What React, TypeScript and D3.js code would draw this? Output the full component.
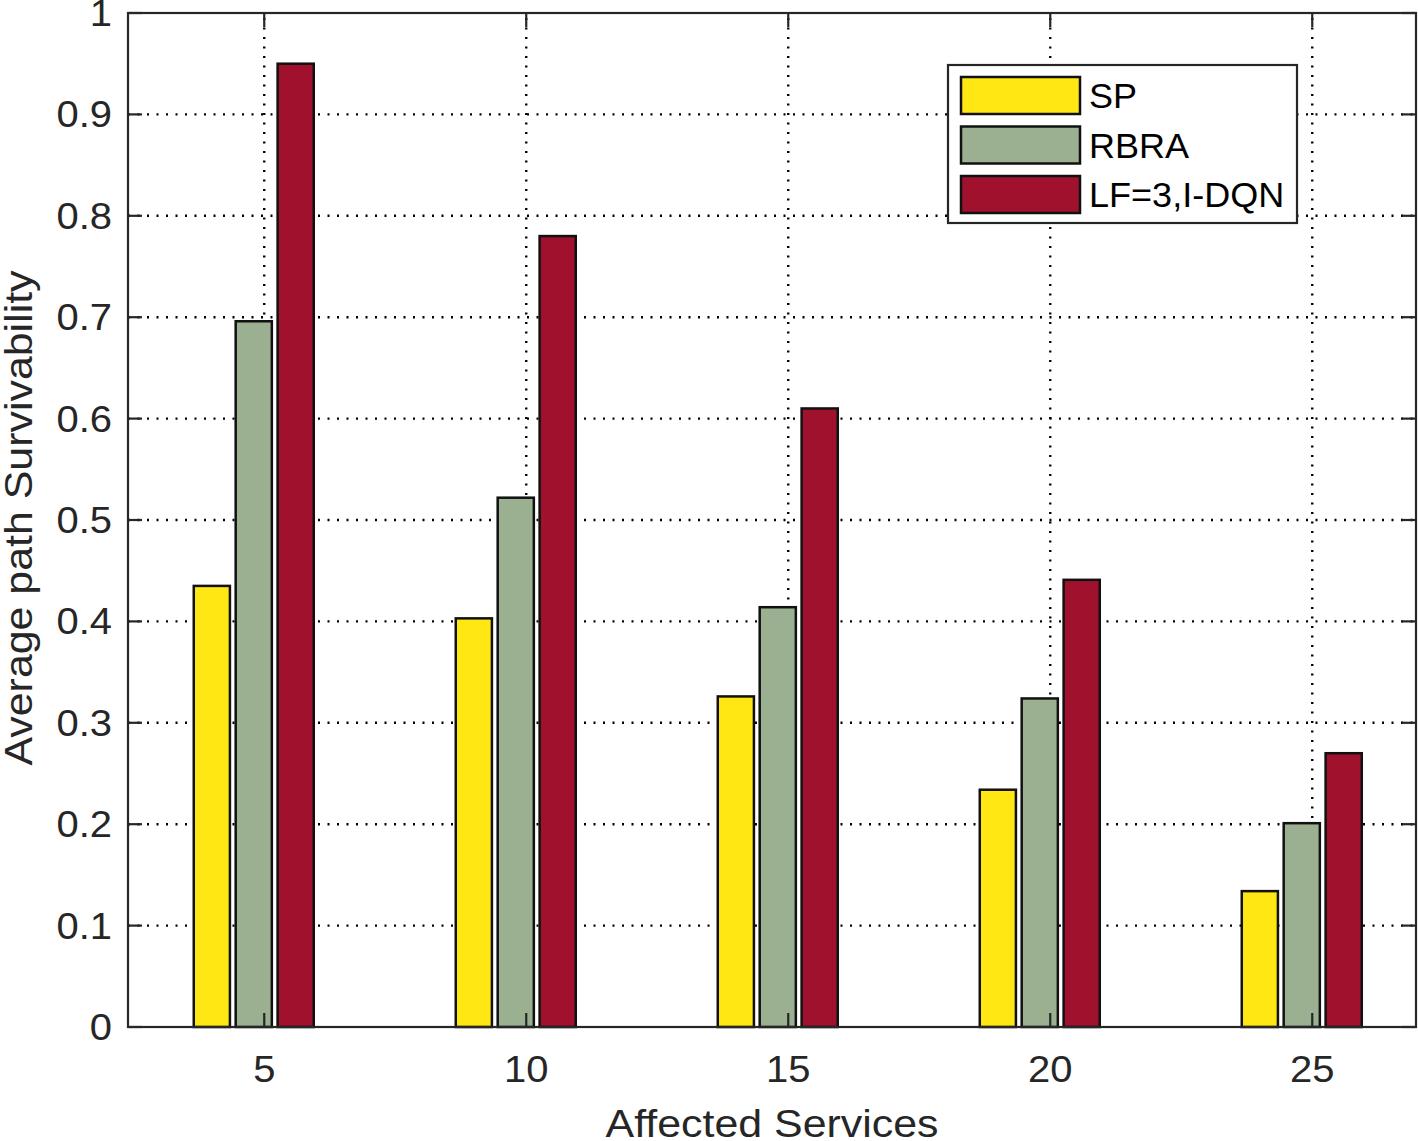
import React from "react";
import * as d3 from "d3";

const categories = [5, 10, 15, 20, 25];
const seriesNames = ["SP", "RBRA", "LF=3,I-DQN"];
const spValues = [0.435, 0.403, 0.326, 0.234, 0.134];
const rbraValues = [0.696, 0.522, 0.414, 0.324, 0.201];
const dqnValues = [0.95, 0.78, 0.61, 0.441, 0.27];
const yTicks = [0, 0.1, 0.2, 0.3, 0.4, 0.5, 0.6, 0.7, 0.8, 0.9, 1];
const xTicks = [5, 10, 15, 20, 25];
const colors = ["#FFE713", "#9AB091", "#A0112E"];

const W = 1418;
const H = 1141;
const left = 128;
const right = 1416;
const top = 13;
const bottom = 1027;

export default function App() {
  const x = d3.scaleLinear().domain([2.4, 26.98]).range([left, right]);
  const y = d3.scaleLinear().domain([0, 1]).range([bottom, top]);
  const series = [spValues, rbraValues, dqnValues];
  const offsets = [-1.0, -0.2, 0.6];
  const bw = 0.69;
  const axisColor = "#262626";
  const font = "'Liberation Sans', Arial, Helvetica, sans-serif";
  const tickLen = 14;

  return (
    <svg
      width={W}
      height={H}
      style={{ position: "absolute", left: 0, top: 0, background: "#fff" }}
      fontFamily={font}
    >
      <rect x={0} y={0} width={W} height={H} fill="#fff" />
      {/* grid */}
      <g stroke="#000" strokeWidth={2.4} strokeDasharray="2 7.5">
        {yTicks.slice(1, -1).map((t) => (
          <line key={"gy" + t} x1={left} x2={right} y1={y(t)} y2={y(t)} />
        ))}
        {xTicks.map((t) => (
          <line key={"gx" + t} x1={x(t)} x2={x(t)} y1={bottom} y2={top} />
        ))}
      </g>
      {/* bars */}
      {series.map((vals, si) => (
        <g key={"s" + si}>
          {categories.map((c, ci) => {
            const x0 = x(c + offsets[si] - bw / 2);
            const x1 = x(c + offsets[si] + bw / 2);
            return (
              <rect
                key={ci}
                x={x0}
                y={y(vals[ci])}
                width={x1 - x0}
                height={y(0) - y(vals[ci])}
                fill={colors[si]}
                stroke="#111"
                strokeWidth={2.5}
              />
            );
          })}
        </g>
      ))}
      {/* axes box */}
      <rect
        x={left}
        y={top}
        width={right - left}
        height={bottom - top}
        fill="none"
        stroke={axisColor}
        strokeWidth={2.2}
      />
      <g stroke={axisColor} strokeWidth={2.2}>
        {yTicks.map((t) => (
          <g key={"ty" + t}>
            <line x1={left} x2={left + tickLen} y1={y(t)} y2={y(t)} />
            <line x1={right} x2={right - tickLen} y1={y(t)} y2={y(t)} />
          </g>
        ))}
        {xTicks.map((t) => (
          <g key={"tx" + t}>
            <line x1={x(t)} x2={x(t)} y1={bottom} y2={bottom - tickLen} />
            <line x1={x(t)} x2={x(t)} y1={top} y2={top + tickLen} />
          </g>
        ))}
      </g>
      {/* tick labels */}
      <g fill="#262626" fontSize={37}>
        {yTicks.map((t) => (
          <text
            key={"ly" + t}
            textAnchor="end"
            transform={`translate(${112},${y(t) + 13}) scale(1.08,1)`}
          >
            {String(t)}
          </text>
        ))}
        {xTicks.map((t) => (
          <text
            key={"lx" + t}
            textAnchor="middle"
            transform={`translate(${x(t)},${1082}) scale(1.08,1)`}
          >
            {String(t)}
          </text>
        ))}
      </g>
      {/* axis labels */}
      <text
        fill="#262626"
        fontSize={39}
        textAnchor="middle"
        transform={`translate(${(left + right) / 2},${1137}) scale(1.1,1)`}
      >
        Affected Services
      </text>
      <text
        fill="#262626"
        fontSize={39}
        textAnchor="middle"
        transform={`translate(${32},${518}) rotate(-90) scale(1.1,1)`}
      >
        Average path Survivability
      </text>
      {/* legend */}
      <g>
        <rect x={948} y={65} width={349} height={158} fill="#fff" stroke={axisColor} strokeWidth={2.2} />
        {seriesNames.map((n, i) => {
          const ry = 77 + i * 49.5;
          return (
            <g key={n}>
              <rect x={961} y={ry} width={119} height={37} fill={colors[i]} stroke="#111" strokeWidth={2.5} />
              <text
                fill="#000"
                fontSize={35}
                transform={`translate(${1089},${ry + 31}) scale(1.03,1)`}
              >
                {n}
              </text>
            </g>
          );
        })}
      </g>
    </svg>
  );
}
